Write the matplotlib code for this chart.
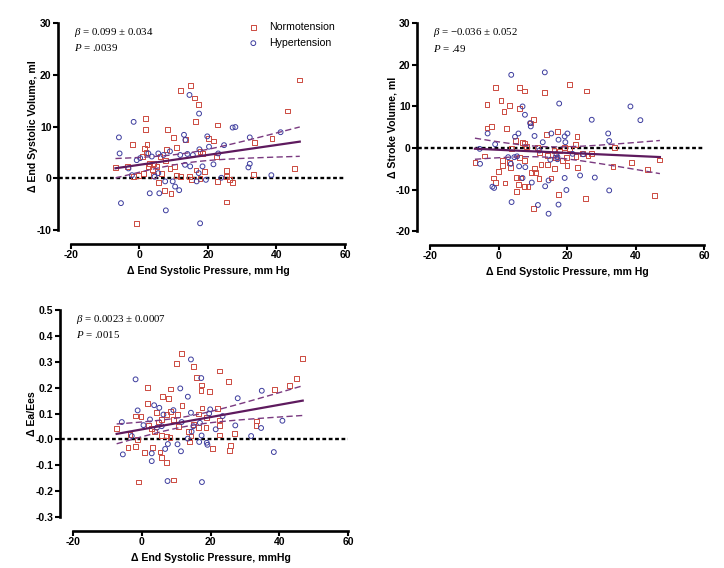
import numpy as np
import matplotlib.pyplot as plt

plt.rcParams["font.family"] = ["Liberation Sans", "DejaVu Sans"]
plt.rcParams["axes.unicode_minus"] = False
plt.rcParams["mathtext.fontset"] = "custom"
plt.rcParams["mathtext.it"] = "Liberation Serif:italic"
plt.rcParams["mathtext.rm"] = "Liberation Serif"

# --- Δ End Systolic Volume vs Δ ESP ---
esv_norm_x = [46.8, 43.1, 45.2, 38.7, 33.7, 33.4, 11.9, 15.0, 16.0, 17.2, 16.4, 22.9, 8.3, 1.8, 1.7,
              10.0, 10.9, 13.5, -2.1, 2.2, 21.7, 20.1, 18.3, 22.6, -7.0, -3.5, -1.7, 0.9, 1.9, 2.9,
              3.7, 5.1, 5.5, 7.2, 9.2, 8.0, 8.9, 10.2, 10.9, 11.9, 14.5, 16.5, 17.7, 18.9, 22.7,
              25.5, 25.5, 26.2, 27.1, 25.4, -0.8, 1.2, -0.3, 4.1, 6.0, 7.5, 2.6, 4.1, 6.5, 1.5,
              15.3, 17.7]
esv_norm_y = [19.0, 13.0, 1.9, 7.7, 6.9, 0.8, 17.0, 17.9, 15.5, 14.2, 10.9, 10.3, 9.4, 11.5, 9.5,
              7.9, 5.9, 7.5, 6.6, 6.6, 7.2, 7.7, 4.8, 4.1, 2.1, 2.3, 0.3, 4.2, 5.0, 2.9,
              1.7, 2.3, -0.8, -2.3, -3.0, 5.5, 1.9, 2.3, 0.6, 0.3, 0.3, 1.6, 0.0, 1.3, -0.6,
              1.5, 0.3, -0.3, -0.8, -4.6, -8.8, 1.0, 0.6, 2.9, 4.2, 3.5, 2.3, 0.6, 1.0, 5.8,
              -0.3, 5.2]
esv_hyp_x = [14.6, 17.4, -1.7, -6.0, -5.8, 13.0, 13.4, 19.8, 20.3, 24.7, 27.2, 28.0, 32.2, 32.2,
             31.8, 41.2, 38.5, 17.5, 18.4, 17.3, 19.4, 21.6, 23.9, -0.8, 0.2, 2.6, 3.6, 5.5, 7.0,
             8.9, 11.9, 14.0, 15.6, 13.3, 14.8, 4.4, 5.5, 7.5, 9.7, 10.4, 11.6, 3.0, 5.8, 7.7,
             -5.4, 17.7, -3.2, -2.2, 16.7, 23.0]
esv_hyp_y = [16.1, 12.5, 10.9, 7.9, 4.8, 8.4, 7.4, 8.1, 6.1, 6.4, 9.8, 9.9, 7.9, 2.8,
             2.1, 8.9, 0.6, 5.6, 2.3, 1.0, -0.3, 2.7, 0.1, 3.5, 3.9, 4.8, 4.2, 4.8, 4.5,
             5.2, 4.5, 4.7, 4.5, 2.6, 2.3, 0.3, 1.0, -0.6, -0.6, -1.6, -2.3, -2.9, -2.9, -6.2,
             -4.8, -8.7, 1.9, 0.6, -0.6, 4.8]

# --- Δ Stroke Volume vs Δ ESP ---
sv_norm_x = [20.8, 25.7, -0.8, 6.2, 7.6, 13.5, -3.4, 0.7, 3.3, 1.6, 6.0, 10.1, 9.3, -3.4, -2.0,
             2.3, 13.9, 17.2, 22.9, 22.5, -4.2, -6.9, -1.5, -0.8, 1.9, -0.1, 1.2, 3.1, 3.4, 5.3,
             6.3, 5.8, 5.3, 7.6, 8.6, 10.3, 11.8, 10.9, 9.6, 10.6, 12.4, 14.4, 15.3, 16.4, 17.4,
             18.7, 20.0, 23.0, 25.3, 27.1, 26.1, 33.4, 33.9, 38.9, 43.5, 45.5, 47.1, 7.5, 7.0,
             8.2, 4.9, 3.8, 14.3, 16.7, 17.7, 19.2, 20.7, 22.6, 24.5, 1.2, 11.4, 11.9, 6.0, 7.5,
             16.2, 19.8]
sv_norm_y = [15.3, 13.7, 14.5, 14.5, 13.7, 13.4, 10.5, 11.5, 10.3, 8.8, 9.5, 6.8, 6.0, 4.8, 5.2,
             4.7, 3.2, 3.9, 2.8, 0.9, -1.9, -3.5, -7.2, -8.3, -8.4, -5.7, -3.0, -3.5, -4.6, -7.1,
             -7.2, -8.8, -10.4, -9.2, -9.2, -14.5, -7.3, -5.9, -5.8, -5.0, -4.0, -4.0, -7.2, -5.0, -11.1,
             -3.0, -4.3, -4.6, -12.2, -1.4, -1.8, -4.4, 0.2, -3.4, -5.1, -11.4, -2.9, 1.0, 1.4,
             0.4, 1.8, -0.2, -1.8, -2.2, -0.7, 0.2, -0.2, -2.0, -1.4, -4.2, 0.2, -1.2, -2.2, -3.0,
             -0.6, -2.3]
sv_hyp_x = [3.7, 13.5, 17.7, 7.0, 7.7, 9.2, 9.4, 27.2, 38.5, 41.4, 32.0, 32.3, 32.3, -3.2, -1.0,
            -5.5, -5.4, -1.8, -1.3, 3.8, 11.5, 14.6, 17.5, 19.8, 19.3, 23.8, 28.1, 13.6, 14.6, 9.7,
            4.8, 5.8, 10.5, 12.9, 15.4, 17.5, 19.3, 20.1, 19.5, 16.9, 17.2, 17.2, 21.6, 24.7, 5.4,
            6.0, 7.8, 7.0, 2.8, 3.6, 4.6, 11.9, 15.1]
sv_hyp_y = [17.6, 18.2, 10.7, 10.0, 8.0, 6.0, 5.2, 6.8, 10.0, 6.7, 3.5, 1.7, -10.2, 3.5, 0.9,
            -0.2, -3.8, -9.3, -9.6, -13.0, -13.7, -15.8, -13.6, -10.1, -7.2, -6.6, -7.1, -9.2, -7.8, -8.3,
            2.7, 3.5, 2.9, 1.4, 3.5, 2.0, 2.8, 3.5, 1.4, -1.5, -2.2, -2.7, -1.4, -1.5, -2.0,
            -4.4, -4.6, -7.2, -2.2, -3.8, -2.2, -0.6, -2.8]

# --- Δ Ea/Ees vs Δ ESP ---
ea_norm_x = [46.8, 45.1, 43.0, 38.6, 33.4, 33.2, 26.9, 25.2, 22.7, 22.6, 22.1, 22.5, 19.8, 20.6,
             17.3, 17.2, 16.0, 15.0, 11.5, 10.2, 11.7, 8.3, 6.1, 7.8, 1.6, 1.6, 17.5, 18.9, 16.5,
             25.6, 25.9, 22.7, -7.3, -4.0, -1.9, -3.4, -1.9, -0.2, -1.3, 0.7, 3.2, 5.3, 5.7, 7.1,
             -1.0, 9.2, 2.0, 2.9, 4.8, 5.8, 7.3, 8.4, 9.2, 10.4, 7.1, 8.2, 10.6, 13.6, 14.3, 13.8,
             15.0, 16.5, 18.7, 4.4, 3.6, 5.8]
ea_norm_y = [0.314, 0.234, 0.208, 0.193, 0.071, 0.055, 0.022, 0.225, 0.264, 0.075, 0.120, 0.054,
             0.186, -0.035, 0.210, 0.190, 0.240, 0.283, 0.332, 0.292, 0.131, 0.195, 0.165, 0.158,
             0.201, 0.139, 0.121, 0.085, 0.098, -0.044, -0.023, 0.017, 0.042, -0.032, -0.028, 0.019,
             0.090, 0.087, 0.0, -0.051, -0.032, -0.049, -0.071, -0.090, -0.165, -0.157, 0.055, 0.041,
             0.067, 0.077, 0.095, 0.109, 0.077, 0.096, 0.013, 0.006, 0.051, 0.032, 0.013, -0.010,
             0.058, 0.045, 0.045, 0.103, 0.032, 0.015]
ea_hyp_x = [14.3, 17.3, 11.2, 13.4, -1.8, 27.9, 34.9, 40.9, 38.4, 34.7, 31.8, 27.2, 23.5, 19.9,
            19.6, 21.5, 18.9, 19.1, 17.4, 16.7, 17.5, 7.5, -5.5, -5.8, -1.2, 3.6, 5.1, 6.3, 2.9,
            2.9, 6.8, 7.6, 10.4, 11.4, 13.4, 14.5, 14.3, 11.6, 9.2, 0.5, 2.4, 4.4, 5.8, -2.9,
            15.0, 16.9]
ea_hyp_y = [0.309, 0.237, 0.197, 0.165, 0.232, 0.159, 0.188, 0.072, -0.049, 0.044, 0.013, 0.054,
            0.090, 0.116, 0.100, 0.039, -0.013, -0.021, 0.015, -0.010, -0.165, -0.161, -0.058, 0.067,
            0.112, 0.132, 0.122, 0.096, -0.084, -0.054, -0.037, -0.018, -0.019, -0.046, 0.003, 0.030,
            0.103, 0.067, 0.113, 0.055, 0.077, 0.045, 0.051, 0.013, 0.051, 0.064]

stats_esv = ["$\\beta$ = 0.099 ± 0.034", "$P$ = .0039"]
stats_sv = ["$\\beta$ = \u22120.036 ± 0.052", "$P$ = .49"]
stats_ea = ["$\\beta$ = 0.0023 ± 0.0007", "$P$ = .0015"]

xticks = [-20, 0, 20, 40, 60]
esv_yticks = [-10, 0, 10, 20, 30]
sv_yticks = [-20, -10, 0, 10, 20, 30]
ea_yticks = [-0.3, -0.2, -0.1, 0.0, 0.1, 0.2, 0.3, 0.4, 0.5]
ea_yticklabels = ["-0.3", "-0.2", "-0.1", "-0.0", "0.1", "0.2", "0.3", "0.4", "0.5"]

RED = "#cc4a40"
BLUE = "#3d3d9e"
FIT = "#5e1a5e"
BAND = "#7a3a80"


def fit_band(x, y, t=1.98):
    # least-squares line with 95% confidence band
    x = np.asarray(x)
    y = np.asarray(y)
    slope, icpt = np.polyfit(x, y, 1)
    n = len(x)
    s = np.sqrt(np.sum((y - (slope * x + icpt)) ** 2) / (n - 2))
    xm = x.mean()
    sxx = np.sum((x - xm) ** 2)
    xs = np.linspace(x.min(), x.max(), 100)
    yfit = slope * xs + icpt
    half = t * s * np.sqrt(1 / n + (xs - xm) ** 2 / sxx)
    return xs, yfit, yfit - half, yfit + half


def draw_panel(ax, nx, ny, hx, hy, yticks, ylabel, xlabel, stats, ylabels=None):
    ax.scatter(nx, ny, marker="s", s=12, facecolors="none", edgecolors=RED, linewidths=0.7,
               label="Normotension", zorder=3)
    ax.scatter(hx, hy, marker="o", s=12, facecolors="none", edgecolors=BLUE, linewidths=0.7,
               label="Hypertension", zorder=3)

    xs, yfit, lo, hi = fit_band(nx + hx, ny + hy)
    ax.plot(xs, yfit, color=FIT, lw=1.6, zorder=4)
    ax.plot(xs, lo, color=BAND, lw=1.0, dashes=(4.5, 2.4), zorder=4)
    ax.plot(xs, hi, color=BAND, lw=1.0, dashes=(4.5, 2.4), zorder=4)

    ax.plot([-0.045, 1.0], [0, 0], transform=ax.get_yaxis_transform(), color="black",
            lw=1.7, dashes=(1.6, 1.1), clip_on=False, zorder=2)

    ax.set_xlim(-20, 60)
    ax.set_xticks(xticks)
    ax.set_ylim(yticks[0], yticks[-1])
    ax.set_yticks(yticks)
    if ylabels is not None:
        ax.set_yticklabels(ylabels)

    for side in ["top", "right"]:
        ax.spines[side].set_visible(False)
    ax.spines["left"].set_position(("outward", 9.5))
    ax.spines["bottom"].set_position(("outward", 10))
    for side in ["left", "bottom"]:
        ax.spines[side].set_linewidth(1.9)
    ax.tick_params(width=1.5, length=3.5, labelsize=7.5, pad=1.0)
    for lab in ax.get_xticklabels() + ax.get_yticklabels():
        lab.set_fontweight("bold")

    ax.set_xlabel(xlabel, fontsize=7.6, fontweight="bold", labelpad=4)
    ax.set_ylabel(ylabel, fontsize=7.6, fontweight="bold", labelpad=-1)

    serif = ["Liberation Serif", "DejaVu Serif"]
    ax.text(0.01, 0.955, stats[0], transform=ax.transAxes, fontsize=7.8,
            family=serif, va="center", ha="left")
    ax.text(0.01, 0.88, stats[1], transform=ax.transAxes, fontsize=7.8,
            family=serif, va="center", ha="left")


fig = plt.figure(figsize=(7.24, 5.68), dpi=100)
ax1 = fig.add_axes([0.098, 0.595, 0.3785, 0.3645])
ax2 = fig.add_axes([0.594, 0.593, 0.3785, 0.366])
ax3 = fig.add_axes([0.1008, 0.0898, 0.38, 0.3644])

draw_panel(ax1, esv_norm_x, esv_norm_y, esv_hyp_x, esv_hyp_y, esv_yticks,
           "Δ End Systolic Volume, ml", "Δ End Systolic Pressure, mm Hg", stats_esv)
draw_panel(ax2, sv_norm_x, sv_norm_y, sv_hyp_x, sv_hyp_y, sv_yticks,
           "Δ Stroke Volume, ml", "Δ End Systolic Pressure, mm Hg", stats_sv)
draw_panel(ax3, ea_norm_x, ea_norm_y, ea_hyp_x, ea_hyp_y, ea_yticks,
           "Δ Ea/Ees", "Δ End Systolic Pressure, mmHg", stats_ea, ea_yticklabels)

ax1.legend(loc="upper left", bbox_to_anchor=(0.6, 1.04), frameon=False, fontsize=7.6,
           handletextpad=0.5, labelspacing=0.55, borderpad=0.2, markerscale=1.0)

fig.savefig("out.png", dpi=100)
